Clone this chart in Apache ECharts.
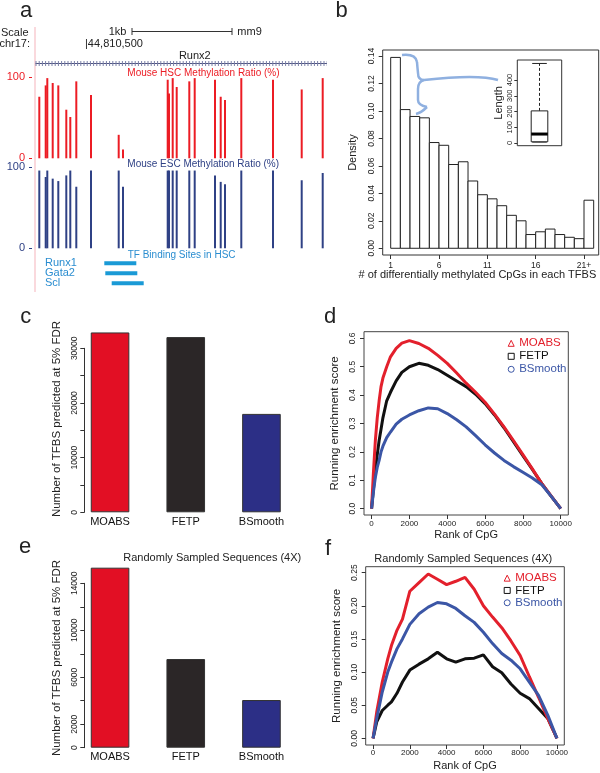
<!DOCTYPE html>
<html><head><meta charset="utf-8">
<script src="https://cdn.jsdelivr.net/npm/echarts@6/dist/echarts.min.js"></script>
<style>html,body{margin:0;padding:0;background:#fff}#c{width:600px;height:773px}</style>
</head><body><div id="c"></div>
<script>
// ---------- Panel a : genome browser tracks ----------
const genomeRange = [44810000, 44812950];
const geneSpan = [44810005, 44812920];          // Runx2 line
const scaleBar = [44810970, 44811970];          // 1 kb
const cpgPos = [44810043, 44810107, 44810123, 44810177, 44810233, 44810313, 44810353, 44810413,
  44810560, 44810837, 44810880, 44811327, 44811340, 44811377, 44811417, 44811543, 44811597,
  44811800, 44811857, 44811900, 44812063, 44812380, 44812667, 44812877];
const hscRatio = [76, 90, 99, 93, 90, 60, 51, 95, 78, 29, 11, 97, 80, 99, 88, 95, 99, 97, 76, 72, 99, 97, 85, 99];
const escRatio = [96, 88, 96, 86, 83, 90, 96, 76, 96, 96, 76, 96, 96, 96, 96, 96, 96, 90, 82, 79, 96, 96, 84, 93];
const tfNames = ['Runx1', 'Gata2', 'Scl'];
const tfStart = [44810693, 44810703, 44810767];
const tfEnd = [44811013, 44811023, 44811087];

// ---------- Panel b : histogram + inset boxplot ----------
const binStart = [1,2,3,4,5,6,7,8,9,10,11,12,13,14,15,16,17,18,19,20,21];
const density = [0.139,0.101,0.096,0.095,0.077,0.075,0.061,0.063,0.049,0.039,0.036,0.031,0.024,0.020,0.010,0.012,0.014,0.010,0.008,0.007,0.035];
const histTicks = [1, 6, 11, 16, 21];
const histTickLabels = ['1', '6', '11', '16', '21+'];
const densityTicks = [0, 0.02, 0.04, 0.06, 0.08, 0.10, 0.12, 0.14];
const lengthStats = [6, 8, 57, 204, 505];   // min, Q1, median, Q3, max
const lengthTicks = [0, 100, 200, 300, 400];

// ---------- Panels c, e : bar charts ----------
const methods = ['MOABS', 'FETP', 'BSmooth'];
const cCounts = [32900, 32050, 18000];
const eCounts = [15330, 7550, 4060];
const cTickLabels = [0, 10000, 20000, 30000];
const eTickLabels = [0, 2000, 6000, 10000, 14000];

// ---------- Panel d : running enrichment ----------
const dRanks  = [0,100,200,300,400,500,600,800,1000,1300,1600,2000,2500,3000,3500,4000,4500,5000,5500,6000,6500,7000,7500,8000,8500,9000,9500,10000];
const dMoabs  = [0,0.13,0.24,0.32,0.38,0.43,0.46,0.50,0.535,0.565,0.583,0.592,0.582,0.565,0.54,0.512,0.478,0.442,0.41,0.375,0.333,0.288,0.24,0.19,0.14,0.088,0.044,0];
const dFetp   = [0,0.07,0.13,0.19,0.24,0.28,0.32,0.38,0.41,0.45,0.48,0.50,0.512,0.505,0.49,0.47,0.45,0.43,0.403,0.37,0.33,0.285,0.236,0.187,0.138,0.088,0.043,0];
const dBsm    = [0,0.06,0.11,0.145,0.17,0.20,0.22,0.25,0.27,0.298,0.315,0.33,0.345,0.355,0.352,0.335,0.313,0.288,0.257,0.225,0.196,0.17,0.148,0.128,0.108,0.084,0.043,0];
const rankTicks = [0, 2000, 4000, 6000, 8000, 10000];
const dScoreTicks = [0, 0.1, 0.2, 0.3, 0.4, 0.5, 0.6];

// ---------- Panel f : running enrichment, sampled ----------
const fRanks  = [0,200,500,800,1000,1300,1600,2000,2500,3000,3500,4000,4500,5000,5500,6000,6500,7000,7500,8000,8500,9000,9500,10000];
const fMoabs  = [0,0.04,0.085,0.12,0.14,0.163,0.18,0.222,0.235,0.248,0.24,0.232,0.237,0.243,0.225,0.20,0.183,0.167,0.147,0.125,0.093,0.062,0.03,0];
const fFetp   = [0,0.025,0.042,0.05,0.055,0.068,0.085,0.103,0.112,0.12,0.13,0.12,0.115,0.12,0.121,0.126,0.108,0.099,0.082,0.068,0.06,0.045,0.03,0];
const fBsm    = [0,0.03,0.07,0.10,0.115,0.135,0.15,0.172,0.188,0.198,0.205,0.203,0.196,0.185,0.175,0.16,0.143,0.128,0.118,0.105,0.085,0.065,0.035,0];
const fScoreTicks = [0, 0.05, 0.10, 0.15, 0.20, 0.25];

// ---------- styling ----------
const FF = "'Liberation Sans', Arial, Helvetica, sans-serif";
const RED = '#e3202c', BLK = '#111111', BLU = '#3b56a6';
const barColors = ['#e20f24', '#2b2627', '#2c2f86'];
const HSC_C = '#ec1c24', ESC_C = '#2f4185', TF_C = '#1a9ad6';
const TXT = '#222';
const tick = (vals, len) => ({show: true, length: len || 4, lineStyle: {color: '#333', width: 1}, customValues: vals});
const plain = v => String(v);

function hidden(gi, extra) { return Object.assign({gridIndex: gi, show: false}, extra || {}); }
function genomeX(gi) { return hidden(gi, {type: 'value', min: genomeRange[0], max: genomeRange[1]}); }

function text(str, x, y, o) {
  o = o || {};
  return {type: 'text', x: x, y: y, rotation: o.rot || 0, silent: true,
    style: {text: str, fontFamily: FF, fontSize: o.size || 11, fill: o.color || TXT,
      align: o.align || 'left', verticalAlign: 'middle'}};
}
const BRACE = '#8fb0e0';
function curve(p0, c1, c2, p1) {
  return {type: 'bezierCurve', silent: true,
    shape: {x1: p0[0], y1: p0[1], cpx1: c1[0], cpy1: c1[1], cpx2: c2[0], cpy2: c2[1], x2: p1[0], y2: p1[1]},
    style: {stroke: BRACE, lineWidth: 2.5, fill: null}};
}
function legendData() {
  return [
    {name: 'MOABS', icon: 'triangle', itemStyle: {color: 'rgba(0,0,0,0)', borderColor: RED, borderWidth: 1}, textStyle: {color: RED}},
    {name: 'FETP', icon: 'rect', itemStyle: {color: 'rgba(0,0,0,0)', borderColor: BLK, borderWidth: 1}, textStyle: {color: BLK}},
    {name: 'BSmooth', icon: 'circle', itemStyle: {color: 'rgba(0,0,0,0)', borderColor: BLU, borderWidth: 1}, textStyle: {color: BLU}}
  ];
}

const chart = echarts.init(document.getElementById('c'), null, {width: 600, height: 773});

const option = {
  animation: false,
  textStyle: {fontFamily: FF},
  grid: [
    {left: 35, top: 31.5, width: 295, height: 32},
    {left: 35, top: 77.3, width: 295, height: 81},
    {left: 35, top: 167.3, width: 295, height: 81},
    {left: 35, top: 257.7, width: 295, height: 30},
    {left: 382.7, top: 50, width: 216, height: 205, show: true, borderColor: '#333', borderWidth: 1, backgroundColor: 'transparent'},
    {left: 517.3, top: 60, width: 44.4, height: 85.7, show: true, borderColor: '#333', borderWidth: 1, backgroundColor: 'transparent'},
    {left: 72.2, top: 348.3, width: 227.1, height: 164},
    {left: 364, top: 331.7, width: 204.3, height: 183.3, show: true, borderColor: '#444', borderWidth: 1, backgroundColor: 'transparent'},
    {left: 72.2, top: 583.3, width: 227.1, height: 164.4},
    {left: 365.7, top: 566.7, width: 198.6, height: 178.3, show: true, borderColor: '#444', borderWidth: 1, backgroundColor: 'transparent'}
  ],
  xAxis: [
    genomeX(0), genomeX(1), genomeX(2), genomeX(3),
    {gridIndex: 4, type: 'value', min: 0.172, max: 22.52, axisLine: {show: false, onZero: false}, splitLine: {show: false},
      axisTick: tick(histTicks), axisLabel: {customValues: histTicks, formatter: v => histTickLabels[histTicks.indexOf(v)], fontSize: 8.5, color: TXT, margin: 6}},
    hidden(5, {type: 'value', min: -1, max: 1}),
    {gridIndex: 6, type: 'category', data: methods, axisLine: {show: false}, axisTick: {show: false},
      axisLabel: {fontSize: 11, color: '#111', margin: 4, interval: 0}},
    {gridIndex: 7, type: 'value', min: -400, max: 10400, axisLine: {show: false, onZero: false}, splitLine: {show: false},
      axisTick: tick(rankTicks), axisLabel: {customValues: rankTicks, formatter: plain, fontSize: 8, color: TXT, margin: 5},
      name: 'Rank of CpG', nameLocation: 'middle', nameGap: 14, nameTextStyle: {fontSize: 11, color: TXT}},
    {gridIndex: 8, type: 'category', data: methods, axisLine: {show: false}, axisTick: {show: false},
      axisLabel: {fontSize: 11, color: '#111', margin: 4, interval: 0}},
    {gridIndex: 9, type: 'value', min: -400, max: 10400, axisLine: {show: false, onZero: false}, splitLine: {show: false},
      axisTick: tick(rankTicks), axisLabel: {customValues: rankTicks, formatter: plain, fontSize: 8, color: TXT, margin: 4},
      name: 'Rank of CpG', nameLocation: 'middle', nameGap: 15, nameTextStyle: {fontSize: 11, color: TXT}}
  ],
  yAxis: [
    hidden(0, {type: 'value', min: 0, max: 1}),
    {gridIndex: 1, type: 'value', min: 0, max: 100, interval: 100, offset: 3, axisLine: {show: false}, splitLine: {show: false},
      axisTick: {show: true, length: 3, lineStyle: {color: HSC_C}}, axisLabel: {color: HSC_C, fontSize: 11, margin: 7}},
    {gridIndex: 2, type: 'value', min: 0, max: 100, interval: 100, offset: 3, axisLine: {show: false}, splitLine: {show: false},
      axisTick: {show: true, length: 3, lineStyle: {color: ESC_C}}, axisLabel: {color: ESC_C, fontSize: 11, margin: 7}},
    {gridIndex: 3, type: 'category', data: tfNames, inverse: true, axisLine: {show: false}, axisTick: {show: false},
      axisLabel: {inside: true, interval: 0, margin: 10, color: '#2a8dd0', fontSize: 11}},
    {gridIndex: 4, type: 'value', min: -0.0049, max: 0.1444, axisLine: {show: false, onZero: false}, splitLine: {show: false},
      axisTick: tick(densityTicks), axisLabel: {customValues: densityTicks, rotate: 90, formatter: v => v.toFixed(2), fontSize: 8.5, color: TXT, margin: 7},
      name: 'Density', nameLocation: 'middle', nameRotate: 90, nameGap: 24, nameTextStyle: {fontSize: 11, color: TXT}},
    {gridIndex: 5, type: 'value', min: -17, max: 527, axisLine: {show: false, onZero: false}, splitLine: {show: false},
      axisTick: tick(lengthTicks, 3), axisLabel: {customValues: lengthTicks, rotate: 90, fontSize: 7.5, color: TXT, margin: 3},
      name: 'Length', nameLocation: 'middle', nameRotate: 90, nameGap: 13, nameTextStyle: {fontSize: 11, color: TXT}},
    {gridIndex: 6, type: 'value', min: 0, max: 30000, interval: 5000, offset: -12.1, splitLine: {show: false},
      axisLine: {show: true, lineStyle: {color: '#333', width: 1}}, axisTick: {show: true, length: 4, lineStyle: {color: '#333'}},
      axisLabel: {rotate: 90, fontSize: 8.5, color: TXT, margin: 5, formatter: v => cTickLabels.indexOf(v) >= 0 ? String(v) : ''}},
    {gridIndex: 7, type: 'value', min: -0.0225, max: 0.6235, axisLine: {show: false, onZero: false}, splitLine: {show: false},
      axisTick: tick(dScoreTicks), axisLabel: {customValues: dScoreTicks, rotate: 90, formatter: v => v.toFixed(1), fontSize: 8.5, color: TXT, margin: 7},
      name: 'Running enrichment score', nameLocation: 'middle', nameRotate: 90, nameGap: 23, nameTextStyle: {fontSize: 11.5, color: TXT}},
    {gridIndex: 8, type: 'value', min: 0, max: 14000, interval: 2000, offset: -12.1, splitLine: {show: false},
      axisLine: {show: true, lineStyle: {color: '#333', width: 1}}, axisTick: {show: true, length: 4, lineStyle: {color: '#333'}},
      axisLabel: {rotate: 90, fontSize: 8.5, color: TXT, margin: 5, formatter: v => eTickLabels.indexOf(v) >= 0 ? String(v) : ''}},
    {gridIndex: 9, type: 'value', min: -0.01, max: 0.259, axisLine: {show: false, onZero: false}, splitLine: {show: false},
      axisTick: tick(fScoreTicks), axisLabel: {customValues: fScoreTicks, rotate: 90, formatter: v => v.toFixed(2), fontSize: 8.5, color: TXT, margin: 7},
      name: 'Running enrichment score', nameLocation: 'middle', nameRotate: 90, nameGap: 23, nameTextStyle: {fontSize: 11.5, color: TXT}}
  ],
  legend: [
    {left: 507.7, top: 336.8, orient: 'vertical', itemWidth: 6, itemHeight: 6, itemGap: 0, padding: 0, selectedMode: false,
      textStyle: {fontSize: 11.5, lineHeight: 13, fontFamily: FF}, data: legendData()},
    {left: 503.7, top: 572, orient: 'vertical', itemWidth: 6, itemHeight: 6, itemGap: 0, padding: 0, selectedMode: false,
      textStyle: {fontSize: 11.5, lineHeight: 12.3, fontFamily: FF}, data: legendData()}
  ],
  series: [
    // panel a
    {type: 'line', xAxisIndex: 0, yAxisIndex: 0, data: [[geneSpan[0], 0], [geneSpan[1], 0]], symbol: 'none', silent: true,
      lineStyle: {color: '#4d5380', width: 1}},
    {type: 'line', xAxisIndex: 0, yAxisIndex: 0, data: [[geneSpan[0], 0], [geneSpan[1], 0]], symbol: 'none', silent: true,
      lineStyle: {color: '#7b80a8', width: 5, type: [1, 2.2]}},
    {type: 'line', xAxisIndex: 0, yAxisIndex: 0, data: [[scaleBar[0], 1], [scaleBar[1], 1]], symbol: 'rect', symbolSize: [1, 7],
      showSymbol: true, silent: true, lineStyle: {color: '#333', width: 1}, itemStyle: {color: '#333'}},
    {type: 'bar', xAxisIndex: 1, yAxisIndex: 1, data: cpgPos.map((p, i) => [p, hscRatio[i]]), barWidth: 2, silent: true,
      itemStyle: {color: HSC_C}},
    {type: 'bar', xAxisIndex: 2, yAxisIndex: 2, data: cpgPos.map((p, i) => [p, escRatio[i]]), barWidth: 2, silent: true,
      itemStyle: {color: ESC_C}},
    {type: 'custom', xAxisIndex: 3, yAxisIndex: 3, silent: true,
      data: tfNames.map((n, i) => [tfStart[i], tfEnd[i], i]), encode: {x: [0, 1], y: 2},
      renderItem: (p, api) => {
        const s = api.coord([api.value(0), api.value(2)]);
        const e = api.coord([api.value(1), api.value(2)]);
        return {type: 'rect', shape: {x: s[0], y: s[1] - 1.5, width: e[0] - s[0], height: 4}, style: {fill: TF_C}};
      }},
    // panel b
    {type: 'custom', xAxisIndex: 4, yAxisIndex: 4, silent: true,
      data: binStart.map((k, i) => [k, density[i]]), encode: {x: 0, y: 1},
      renderItem: (p, api) => {
        const k = api.value(0), d = api.value(1);
        const tl = api.coord([k, d]), br = api.coord([k + 1, 0]);
        return {type: 'rect', shape: {x: tl[0], y: tl[1], width: br[0] - tl[0], height: br[1] - tl[1]},
          style: {fill: '#fff', stroke: '#222', lineWidth: 1}};
      }},
    {type: 'custom', xAxisIndex: 5, yAxisIndex: 5, silent: true,
      data: [[0].concat(lengthStats)], encode: {x: 0, y: [1, 2, 3, 4, 5]},
      renderItem: (p, api) => {
        const x = api.value(0);
        const c = v => api.coord([x, v]);
        const pMin = c(api.value(1)), pQ1 = c(api.value(2)), pMed = c(api.value(3)), pQ3 = c(api.value(4)), pMax = c(api.value(5));
        const cx = pMed[0], hw = 8.3, cw = 7.3;
        const st = {stroke: '#222', lineWidth: 1};
        return {type: 'group', children: [
          {type: 'line', shape: {x1: cx, y1: pQ3[1], x2: cx, y2: pMax[1]}, style: {stroke: '#222', lineWidth: 1, lineDash: [3, 2]}},
          {type: 'line', shape: {x1: cx, y1: pQ1[1], x2: cx, y2: pMin[1]}, style: {stroke: '#222', lineWidth: 1, lineDash: [3, 2]}},
          {type: 'line', shape: {x1: cx - cw, y1: pMax[1], x2: cx + cw, y2: pMax[1]}, style: st},
          {type: 'line', shape: {x1: cx - cw, y1: pMin[1], x2: cx + cw, y2: pMin[1]}, style: st},
          {type: 'rect', shape: {x: cx - hw, y: pQ3[1], width: 2 * hw, height: pQ1[1] - pQ3[1]}, style: {fill: '#fff', stroke: '#222', lineWidth: 1}},
          {type: 'line', shape: {x1: cx - hw, y1: pMed[1], x2: cx + hw, y2: pMed[1]}, style: {stroke: '#000', lineWidth: 3}}
        ]};
      }},
    // panel c
    {type: 'bar', xAxisIndex: 6, yAxisIndex: 6, barWidth: 38.6, clip: false, silent: true,
      data: cCounts.map((v, i) => ({value: v, itemStyle: {color: barColors[i]}})),
      itemStyle: {borderColor: '#333', borderWidth: 1}},
    // panel e
    {type: 'bar', xAxisIndex: 8, yAxisIndex: 8, barWidth: 38.6, clip: false, silent: true,
      data: eCounts.map((v, i) => ({value: v, itemStyle: {color: barColors[i]}})),
      itemStyle: {borderColor: '#333', borderWidth: 1}},
    // panel d
    {type: 'line', name: 'FETP', xAxisIndex: 7, yAxisIndex: 7, data: dRanks.map((r, i) => [r, dFetp[i]]), symbol: 'none',
      lineStyle: {color: BLK, width: 3}, itemStyle: {color: BLK}},
    {type: 'line', name: 'MOABS', xAxisIndex: 7, yAxisIndex: 7, data: dRanks.map((r, i) => [r, dMoabs[i]]), symbol: 'none',
      lineStyle: {color: RED, width: 3}, itemStyle: {color: RED}},
    {type: 'line', name: 'BSmooth', xAxisIndex: 7, yAxisIndex: 7, data: dRanks.map((r, i) => [r, dBsm[i]]), symbol: 'none',
      lineStyle: {color: BLU, width: 3}, itemStyle: {color: BLU}},
    // panel f
    {type: 'line', name: 'FETP', xAxisIndex: 9, yAxisIndex: 9, data: fRanks.map((r, i) => [r, fFetp[i]]), symbol: 'none',
      lineStyle: {color: BLK, width: 3}, itemStyle: {color: BLK}},
    {type: 'line', name: 'MOABS', xAxisIndex: 9, yAxisIndex: 9, data: fRanks.map((r, i) => [r, fMoabs[i]]), symbol: 'none',
      lineStyle: {color: RED, width: 3}, itemStyle: {color: RED}},
    {type: 'line', name: 'BSmooth', xAxisIndex: 9, yAxisIndex: 9, data: fRanks.map((r, i) => [r, fBsm[i]]), symbol: 'none',
      lineStyle: {color: BLU, width: 3}, itemStyle: {color: BLU}}
  ],
  graphic: {elements: [
    {type: 'line', silent: true, shape: {x1: 35, y1: 27, x2: 35, y2: 292}, style: {stroke: '#f5b3bb', lineWidth: 1}},
    text('a', 26.2, 10.6, {size: 22, align: 'center'}),
    text('b', 341.7, 10.6, {size: 22, align: 'center'}),
    text('c', 25.8, 317.3, {size: 22, align: 'center'}),
    text('d', 330, 317.3, {size: 22, align: 'center'}),
    text('e', 25, 547.3, {size: 22, align: 'center'}),
    text('f', 328, 549, {size: 22, align: 'center'}),
    text('Scale', 28.5, 33, {align: 'right'}),
    text('chr17:', 30, 44, {align: 'right'}),
    text('1kb', 108.7, 31.7),
    text('mm9', 237.3, 31.7),
    text('|44,810,500', 85, 44),
    text('Runx2', 194.8, 55.7, {align: 'center'}),
    text('Mouse HSC Methylation Ratio (%)', 127.3, 73.3, {size: 10, color: HSC_C}),
    text('Mouse ESC Methylation Ratio (%)', 127.3, 164.3, {size: 10, color: ESC_C}),
    text('TF Binding Sites in HSC', 127.7, 255.7, {size: 10, color: '#2a8dd0'}),
    curve([402, 55], [411, 54], [416, 56], [417, 62]),
    curve([417, 62], [417.3, 66], [417.7, 70], [418, 73]),
    curve([418, 73], [418, 78], [420, 80], [424, 80]),
    curve([424, 80], [450, 77], [482, 75], [498, 80]),
    curve([424, 80], [420, 81], [418, 84], [418, 89]),
    curve([418, 89], [418, 93], [418, 97], [418, 100]),
    curve([418, 100], [418, 104], [422, 106], [427, 107]),
    curve([427, 107], [424, 110], [420, 113], [416, 114]),
    text('# of differentially methylated CpGs in each TFBS', 477.4, 275, {align: 'center'}),
    text('Number of TFBS predicted at 5% FDR', 56.7, 419, {align: 'center', rot: Math.PI / 2, size: 11.5}),
    text('Number of TFBS predicted at 5% FDR', 56.7, 658, {align: 'center', rot: Math.PI / 2, size: 11.5}),
    text('Randomly Sampled Sequences (4X)', 123.3, 558.3),
    text('Randomly Sampled Sequences (4X)', 463.3, 559, {align: 'center'})
  ]}
};
chart.setOption(option);
</script></body></html>
